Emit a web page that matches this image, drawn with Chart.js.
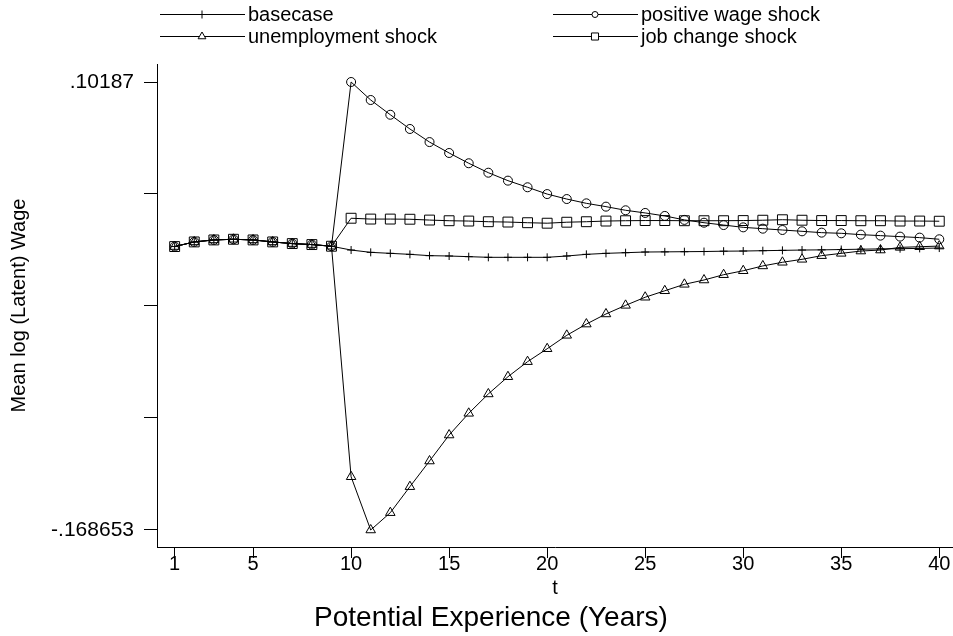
<!DOCTYPE html>
<html>
<head>
<meta charset="utf-8">
<script src="https://cdn.jsdelivr.net/npm/chart.js@4.4.1/dist/chart.umd.min.js"></script>
<style>
  html, body { margin: 0; padding: 0; background: #fff; }
  #wrap { width: 953px; height: 636px; }
</style>
</head>
<body>
<div id="wrap"><canvas id="chart1" width="953" height="636"></canvas></div>
<script>
// potential experience (years)
const years = [1, 2, 3, 4, 5, 6, 7, 8, 9, 10, 11, 12, 13, 14, 15, 16, 17, 18, 19, 20,
               21, 22, 23, 24, 25, 26, 27, 28, 29, 30, 31, 32, 33, 34, 35, 36, 37, 38, 39, 40];

// mean log (latent) wage per scenario
const basecase = [0.0025, 0.0053, 0.0065, 0.0069, 0.0065, 0.0053, 0.0043, 0.0037, 0.0027, 0.0004,
                  -0.0010, -0.0016, -0.0022, -0.0030, -0.0032, -0.0036, -0.0040, -0.0040, -0.0040, -0.0040,
                  -0.0032, -0.0022, -0.0016, -0.0012, -0.0008, -0.0007, -0.0006, -0.0005, -0.0003, -0.0002,
                  0.0000, 0.0002, 0.0004, 0.0005, 0.0007, 0.0009, 0.0011, 0.0012, 0.0014, 0.0016];
const positiveWage = [0.0025, 0.0053, 0.0065, 0.0069, 0.0065, 0.0053, 0.0043, 0.0037, 0.0027, 0.10187,
                      0.0910, 0.0821, 0.0735, 0.0656, 0.0590, 0.0528, 0.0471, 0.0423, 0.0383, 0.0342,
                      0.0312, 0.0286, 0.0266, 0.0244, 0.0228, 0.0210, 0.0186, 0.0169, 0.0155, 0.0141,
                      0.0133, 0.0125, 0.0117, 0.0109, 0.0105, 0.0097, 0.0091, 0.0085, 0.0079, 0.0069];
const unemployment = [0.0025, 0.0053, 0.0065, 0.0069, 0.0065, 0.0053, 0.0043, 0.0037, 0.0027, -0.1365,
                      -0.168653, -0.1582, -0.1425, -0.1270, -0.1113, -0.0982, -0.0865, -0.0761, -0.0670, -0.0592,
                      -0.0511, -0.0443, -0.0382, -0.0330, -0.0281, -0.0242, -0.0203, -0.0177, -0.0145, -0.0121,
                      -0.0092, -0.0070, -0.0052, -0.0030, -0.0016, -0.0002, 0.0004, 0.0020, 0.0024, 0.0028];
const jobChange = [0.0025, 0.0053, 0.0065, 0.0069, 0.0065, 0.0053, 0.0043, 0.0037, 0.0027, 0.0196,
                   0.0191, 0.0191, 0.0190, 0.0185, 0.0181, 0.0179, 0.0175, 0.0173, 0.0169, 0.0166,
                   0.0172, 0.0175, 0.0179, 0.0181, 0.0182, 0.0182, 0.0181, 0.0181, 0.0181, 0.0182,
                   0.0184, 0.0187, 0.0184, 0.0182, 0.0182, 0.0181, 0.0181, 0.0179, 0.0179, 0.0178];

const seriesNames = ['basecase', 'positive wage shock', 'unemployment shock', 'job change shock'];

// axis ticks
const xTicks = [1, 5, 10, 15, 20, 25, 30, 35, 40];
const yTicks = [-0.168653, -0.101022, -0.033391, 0.034240, 0.10187];
const yTickLabels = ['-.168653', '', '', '', '.10187'];

const FONT = '"Liberation Sans", Arial, sans-serif';
Chart.defaults.font.family = FONT;
Chart.defaults.color = '#000';

function toPoints(arr) {
    return arr.map((v, i) => ({ x: years[i], y: v }));
}

function lineSet(label, data, style, radius, legendRadius) {
    return {
        label: label,
        data: toPoints(data),
        borderColor: '#000',
        borderWidth: 1,
        tension: 0,
        pointStyle: style,
        pointRadius: radius,
        pointBorderColor: '#000',
        pointBackgroundColor: 'rgba(0,0,0,0)',
        pointBorderWidth: 1,
        legendRadius: legendRadius
    };
}

// 2x2 legend like the stata one at the top
const legendPlugin = {
    id: 'topLegend',
    afterDraw(chart) {
        const ctx = chart.ctx;
        const colX = [160, 553];
        const rowY = [14, 36];
        ctx.save();
        chart.data.datasets.forEach((ds, i) => {
            const x0 = colX[i % 2];
            const y = rowY[Math.floor(i / 2)];
            ctx.strokeStyle = '#000';
            ctx.lineWidth = 1;
            ctx.beginPath();
            ctx.moveTo(x0, y + 0.5);
            ctx.lineTo(x0 + 85, y + 0.5);
            ctx.stroke();
            ctx.fillStyle = '#fff';
            Chart.helpers.drawPoint(ctx, {
                pointStyle: ds.pointStyle,
                radius: ds.legendRadius,
                rotation: 0,
                borderWidth: 1
            }, x0 + 42, y + 0.5);
            ctx.fillStyle = '#000';
            ctx.font = '20px ' + FONT;
            ctx.textAlign = 'left';
            ctx.textBaseline = 'middle';
            ctx.fillText(ds.label, x0 + 88, y + 1);
        });
        // caption under the axis title
        ctx.font = '28px ' + FONT;
        ctx.textAlign = 'center';
        ctx.textBaseline = 'alphabetic';
        ctx.fillText('Potential Experience (Years)', 491, 626);
        ctx.restore();
    }
};

const wageChart = new Chart(document.getElementById('chart1'), {
    type: 'line',
    data: {
        datasets: [
            lineSet(seriesNames[0], basecase, 'cross', 4, 4),
            lineSet(seriesNames[1], positiveWage, 'circle', 4.5, 3),
            lineSet(seriesNames[2], unemployment, 'triangle', 5.5, 4.5),
            lineSet(seriesNames[3], jobChange, 'rect', 7, 5)
        ]
    },
    options: {
        responsive: false,
        animation: false,
        layout: { autoPadding: false, padding: { top: 64, right: 0, bottom: 36, left: 0 } },
        plugins: {
            legend: { display: false },
            tooltip: { enabled: false }
        },
        scales: {
            x: {
                type: 'linear',
                min: 0.1,
                max: 40.7,
                afterBuildTicks: s => { s.ticks = xTicks.map(v => ({ value: v })); },
                afterFit: s => { s.height = 53; s.paddingLeft = 0; s.paddingRight = 0; },
                grid: { drawOnChartArea: false, tickLength: 11, color: '#000' },
                border: { display: true, color: '#000', width: 1 },
                ticks: { color: '#000', font: { size: 20 }, padding: -6, maxRotation: 0, autoSkip: false },
                title: { display: true, text: 't', color: '#000', font: { size: 20 }, padding: { top: 0, bottom: 0 } }
            },
            y: {
                min: -0.17892,
                max: 0.11274,
                afterBuildTicks: s => { s.ticks = yTicks.map(v => ({ value: v })); },
                afterFit: s => { s.width = 157; s.paddingTop = 0; s.paddingBottom = 0; },
                grid: { drawOnChartArea: false, tickLength: 13, color: '#000' },
                border: { display: true, color: '#000', width: 1 },
                ticks: { color: '#000', font: { size: 21 }, padding: 10, callback: (v, i) => yTickLabels[i] },
                title: { display: true, text: 'Mean log (Latent) Wage', color: '#000', font: { size: 20 }, padding: { top: 7, bottom: 0 } }
            }
        }
    },
    plugins: [legendPlugin]
});
</script>
</body>
</html>
